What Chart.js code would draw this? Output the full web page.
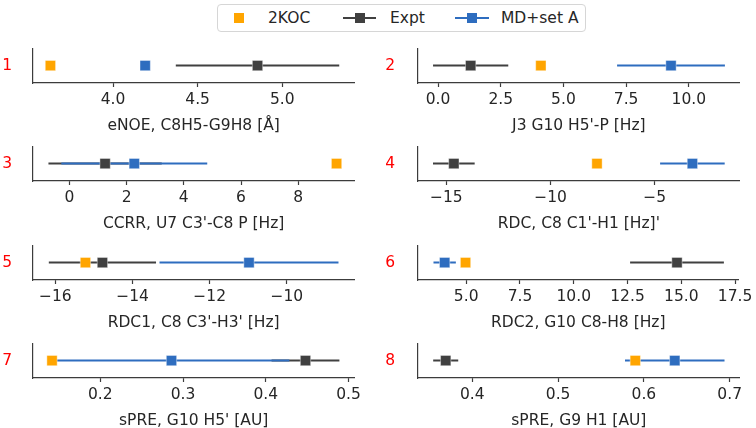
<!DOCTYPE html>
<html>
<head>
<meta charset="utf-8">
<script src="https://cdn.jsdelivr.net/npm/chart.js@4.4.1/dist/chart.umd.min.js"></script>
<style>
  html, body { margin: 0; padding: 0; background: #fff; overflow: hidden; }
  body { width: 756px; height: 428px; position: relative; font-family: 'DejaVu Sans', sans-serif; }
  canvas { position: absolute; }
  .lg { position: absolute; }
  .lg-box { left: 217px; top: 4px; width: 367px; height: 26px; border: 1px solid #d6d6d6; border-radius: 4px; }
  .lg-text { top: 9px; line-height: 18px; font-size: 15.5px; color: #262626; white-space: nowrap; }
  .sq { width: 10px; height: 10px; top: 13px; }
  .ln { height: 2px; top: 17px; }
</style>
</head>
<body>
<div class="lg lg-box"></div>
<div class="lg sq" style="left:234px;background:#ffa500"></div>
<div class="lg lg-text" style="left:268px">2KOC</div>
<div class="lg ln" style="left:343px;width:33px;background:#404040"></div>
<div class="lg sq" style="left:355px;background:#404040"></div>
<div class="lg lg-text" style="left:390px">Expt</div>
<div class="lg ln" style="left:455px;width:34px;background:#2e6dbf"></div>
<div class="lg sq" style="left:467px;background:#2e6dbf"></div>
<div class="lg lg-text" style="left:501px">MD+set A</div>
<script>
// panel numbers and axis titles
const panelNames = ['1', '2', '3', '4', '5', '6', '7', '8'];
const axisTitles = [
    'eNOE, C8H5-G9H8 [Å]',
    "J3 G10 H5'-P [Hz]",
    "CCRR, U7 C3'-C8 P [Hz]",
    "RDC, C8 C1'-H1 [Hz]'",
    "RDC1, C8 C3'-H3' [Hz]",
    'RDC2, G10 C8-H8 [Hz]',
    "sPRE, G10 H5' [AU]",
    'sPRE, G9 H1 [AU]'
];

// series values
const kocValues  = [3.63, 4.10, 9.34, -7.77, -15.22, 4.97, 0.1416, 0.590];
const exptValues = [4.854, 1.30, 1.25, -14.64, -14.78, 14.80, 0.448, 0.369];
const exptErrors = [0.483, 1.50, 1.98, 1.00, 1.39, 2.18, 0.041, 0.0146];
const mdValues   = [4.19, 9.29, 2.27, -3.19, -10.98, 4.00, 0.286, 0.636];
const mdErrors   = [0, 2.15, 2.55, 1.55, 2.32, 0.52, 0.1425, 0.058];

// axis ranges and tick labels
const axisMin = [3.527, -0.80, -1.27, -16.36, -16.58, 2.76, 0.1186, 0.3367];
const axisMax = [5.426, 12.03, 9.96, -0.92, -8.25, 17.66, 0.507, 0.7117];
const tickValues = [
    [4.0, 4.5, 5.0],
    [0, 2.5, 5, 7.5, 10],
    [0, 2, 4, 6, 8],
    [-15, -10, -5],
    [-16, -14, -12, -10],
    [5, 7.5, 10, 12.5, 15, 17.5],
    [0.2, 0.3, 0.4, 0.5],
    [0.4, 0.5, 0.6, 0.7]
];
const tickDecimals = [1, 1, 0, 0, 0, 1, 1, 1];

const COLORS = { koc: '#ffa500', expt: '#404040', md: '#2e6dbf' };
const AXIS_COLOR = '#3c3c3c';
const TEXT_COLOR = '#262626';
const FONT_SIZE = 15.5;
const rowTops = [40, 138, 237, 335]; // canvas tops, chart area starts 3px lower

Chart.defaults.font.family = "'DejaVu Sans', sans-serif";

function fmt(v, d) {
    return v.toFixed(d).replace('-', '\u2212');
}

function marker(label, value, color, order) {
    return {
        label: label,
        data: [{ x: value, y: 0 }],
        pointStyle: 'rect',
        pointRadius: 7.3,
        backgroundColor: color,
        borderColor: 'rgba(255,255,255,0.5)',
        borderWidth: 0.8,
        order: order
    };
}

function errorBar(value, err, color, order) {
    return {
        data: [{ x: value - err, y: 0 }, { x: value + err, y: 0 }],
        showLine: true,
        borderColor: color,
        borderWidth: 2,
        pointRadius: 0,
        order: order
    };
}

function makePanel(i) {
    const col = i % 2;
    const row = Math.floor(i / 2);
    const canvas = document.createElement('canvas');
    canvas.width = 378;
    canvas.height = 96;
    canvas.style.left = (col * 378) + 'px';
    canvas.style.top = rowTops[row] + 'px';
    document.body.appendChild(canvas);

    new Chart(canvas.getContext('2d'), {
        type: 'scatter',
        data: {
            datasets: [
                // markers sit above all error lines, MD on top
                marker('MD+set A', mdValues[i], COLORS.md, 0),
                marker('Expt', exptValues[i], COLORS.expt, 1),
                marker('2KOC', kocValues[i], COLORS.koc, 2),
                errorBar(mdValues[i], mdErrors[i], COLORS.md, 3),
                errorBar(exptValues[i], exptErrors[i], COLORS.expt, 4)
            ]
        },
        options: {
            responsive: false,
            animation: false,
            events: [],
            layout: { padding: { left: 0, right: col ? 16.3 : 23.7, top: 3, bottom: 1 } },
            plugins: { legend: { display: false }, tooltip: { enabled: false } },
            scales: {
                x: {
                    type: 'linear',
                    position: 'bottom',
                    min: axisMin[i],
                    max: axisMax[i],
                    afterBuildTicks: s => { s.ticks = tickValues[i].map(v => ({ value: v })); },
                    afterFit: s => { s.height = 52; },
                    ticks: {
                        callback: v => fmt(v, tickDecimals[i]),
                        font: { size: FONT_SIZE },
                        color: TEXT_COLOR,
                        padding: 3.5,
                        maxRotation: 0,
                        autoSkip: false
                    },
                    grid: { display: true, drawOnChartArea: false, drawTicks: true, tickLength: 4, color: AXIS_COLOR, tickWidth: 1.2 },
                    border: { display: true, color: AXIS_COLOR, width: 1.2 },
                    title: { display: true, text: axisTitles[i], font: { size: FONT_SIZE }, color: TEXT_COLOR, padding: 0 }
                },
                y: {
                    type: 'linear',
                    min: -1,
                    max: 1,
                    afterBuildTicks: s => { s.ticks = [{ value: 0 }]; },
                    afterFit: s => {
                        s.width = col ? 40 : 33;
                        // the label sits mid-height, so it needs no extra room above or below
                        s.paddingTop = 0;
                        s.paddingBottom = 0;
                    },
                    ticks: {
                        callback: () => panelNames[i],
                        color: '#ff0000',
                        font: { size: FONT_SIZE },
                        padding: col ? 23 : 21
                    },
                    grid: { display: false, drawTicks: false },
                    border: { display: true, color: AXIS_COLOR, width: 1.2 }
                }
            }
        }
    });
}

for (let i = 0; i < panelNames.length; i++) makePanel(i);
</script>
</body>
</html>
